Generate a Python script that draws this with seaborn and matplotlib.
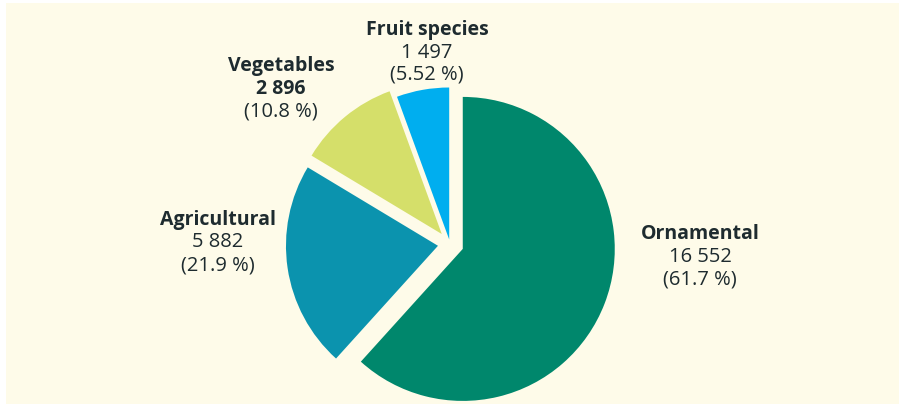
import matplotlib
matplotlib.use("Agg")
import matplotlib.pyplot as plt
import seaborn as sns
from matplotlib.patches import Rectangle

# data
categories = ["Ornamental", "Agricultural", "Vegetables", "Fruit species"]
counts = [16552, 5882, 2896, 1497]
count_labels = ["16 552", "5 882", "2 896", "1 497"]
pct_labels = ["(61.7 %)", "(21.9 %)", "(10.8 %)", "(5.52 %)"]
bold_count = [False, False, True, False]

colors = sns.color_palette(["#00876c", "#0b93ae", "#d5df6a", "#00aeef"])
explode = [0.09, 0.08, 0.085, 0.03]
# label centres in pixels (x, y of first line from top)
label_pos = [(700, 234), (218, 220), (281, 66), (427, 30)]

W, H = 904, 410
cx, cy, R = 450, 245, 152   # pie centre / radius in pixels
bg = "#fefbe9"
txt = "#1e2b2f"

sns.set_style("white")
plt.rcParams["font.family"] = ["Open Sans", "DejaVu Sans"]

fig = plt.figure(figsize=(W / 100, H / 100), dpi=100)
fig.patch.set_facecolor("white")
fig.patches.append(Rectangle((6 / W, 5 / H), 893 / W, 401 / H, transform=fig.transFigure,
                             facecolor=bg, edgecolor="none", zorder=-5))

ax = fig.add_axes([0, 0, 1, 1])
ax.set_zorder(1)
ax.pie(counts, colors=colors, startangle=90, counterclock=False, explode=explode,
       radius=1, frame=True, wedgeprops=dict(linewidth=0))
ax.set_xlim(-cx / R, (W - cx) / R)
ax.set_ylim(-(H - cy) / R, cy / R)
ax.set_aspect("equal")
ax.axis("off")

for i, (x, y) in enumerate(label_pos):
    lines = [(categories[i], "bold"), (count_labels[i], "bold" if bold_count[i] else "normal"),
             (pct_labels[i], "normal")]
    for j, (s, w) in enumerate(lines):
        fig.text(x / W, 1 - (y + j * 22.5) / H, s, ha="center", va="center",
                 fontsize=14 if w == "bold" else 14.5, fontweight=w, color=txt, zorder=3)

fig.savefig("out.png", dpi=100)
